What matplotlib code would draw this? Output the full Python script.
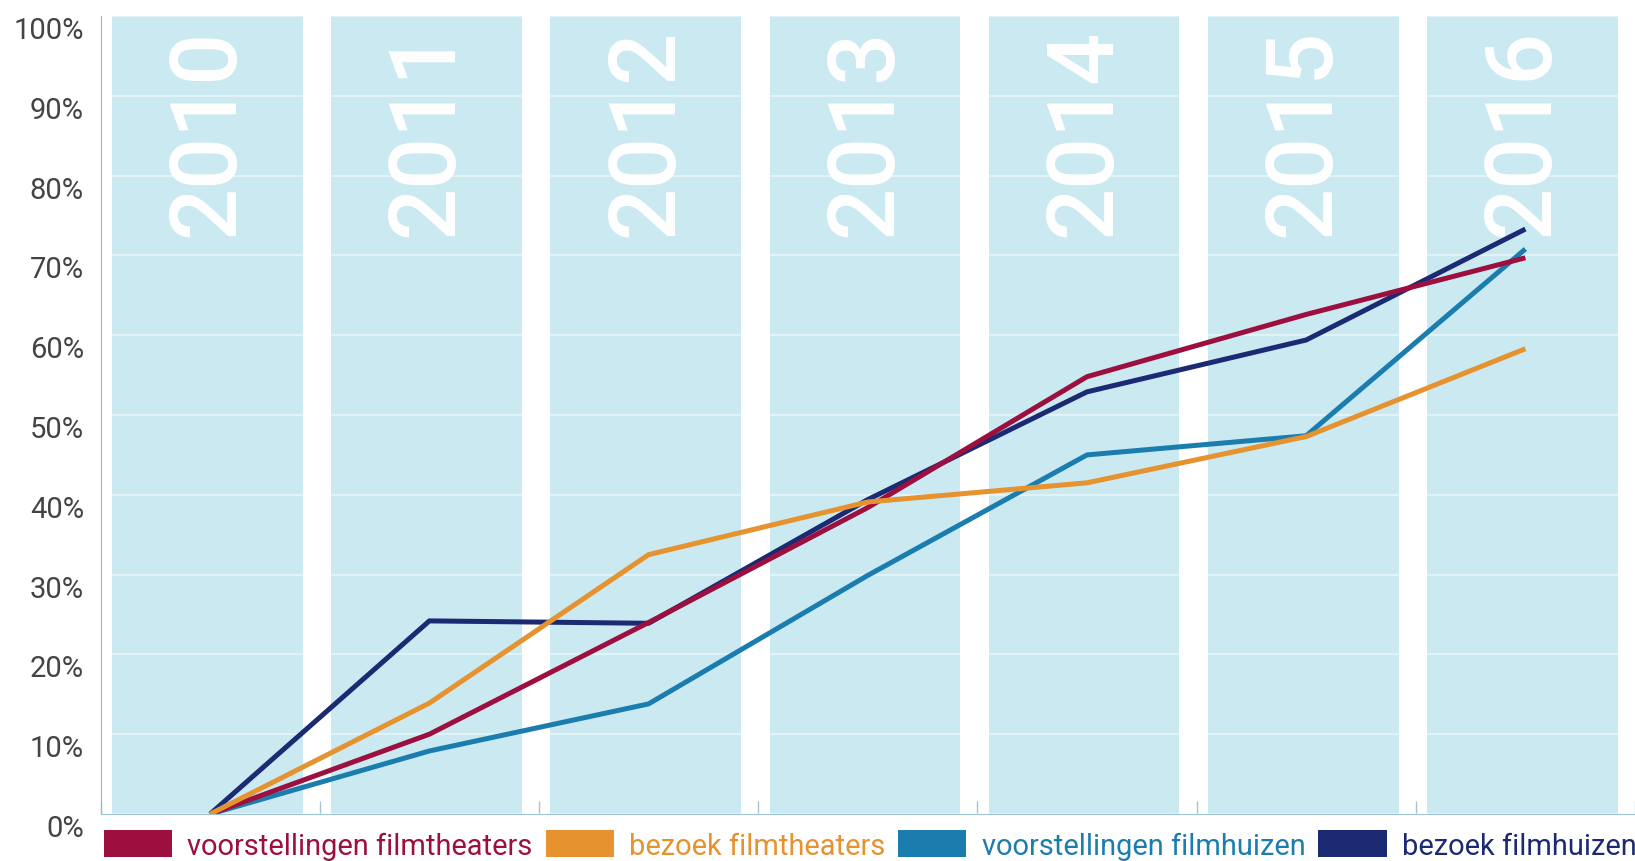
import numpy as np
import matplotlib
matplotlib.use("Agg")
import matplotlib.pyplot as plt
from matplotlib.patches import Patch
from matplotlib.transforms import ScaledTranslation

years = ["2010", "2011", "2012", "2013", "2014", "2015", "2016"]
series_names = ["voorstellingen filmtheaters", "bezoek filmtheaters",
                "voorstellingen filmhuizen", "bezoek filmhuizen"]
voorstellingen_filmtheaters = [0, 10.0, 24.0, 38.4, 54.8, 62.6, 69.7]
bezoek_filmtheaters = [0, 13.9, 32.5, 39.1, 41.5, 47.3, 58.3]
voorstellingen_filmhuizen = [0, 7.9, 13.8, 29.9, 45.0, 47.4, 70.8]
bezoek_filmhuizen = [0, 24.2, 23.9, 39.4, 52.9, 59.4, 73.3]
y_ticks = list(range(0, 101, 10))

colors = ["#9c0f3e", "#e5922f", "#1b7dae", "#1b2a72"]
band_color = "#cbe9f1"

plt.rcParams["font.family"] = ["Roboto", "DejaVu Sans"]

fig = plt.figure(figsize=(16.35, 8.62), dpi=100)
ax = fig.add_axes([0.0615, 0.0545, 0.9385, 0.9258])

x = np.arange(len(years)) + 0.5

# light blue column per year
ax.bar(np.arange(len(years)) + 0.487, 100, width=0.87, color=band_color,
       zorder=0, align="center")
for i, yr in enumerate(years):
    ax.text(i + 0.49, 98.5, yr, rotation=90, ha="center", va="top",
            fontsize=66, fontweight="medium", color="white", zorder=1)

ax.grid(axis="y", color="white", lw=1.2, alpha=0.55)
ax.set_axisbelow(True)

data = [voorstellingen_filmtheaters, bezoek_filmtheaters,
        voorstellingen_filmhuizen, bezoek_filmhuizen]
order = [3, 2, 0, 1]
for k in order:
    ax.plot(x, data[k], color=colors[k], lw=3.6, solid_capstyle="butt",
            zorder=3 + order.index(k))

ax.set_xlim(0, 7)
ax.set_ylim(0, 100)
ax.set_xticks(np.arange(0, 8))
ax.set_xticklabels([])
ax.tick_params(axis="x", direction="in", length=9.5, width=1, color="#a9c2cc")
ax.set_yticks(y_ticks)
ax.set_yticklabels([f"{v}%" for v in y_ticks], fontsize=21, color="#444444")
ax.tick_params(axis="y", length=0, pad=12)
offset = ScaledTranslation(0, -11 / 100, fig.dpi_scale_trans)
for lab in ax.get_yticklabels():
    lab.set_transform(lab.get_transform() + offset)

for s in ["top", "right"]:
    ax.spines[s].set_visible(False)
ax.spines["left"].set_color("#9fb4c0")
ax.spines["bottom"].set_color("#9fc3d0")

handles = [Patch(facecolor=c, edgecolor="none") for c in colors]
ax.legend(handles, series_names, ncol=4, frameon=False, loc="center left",
          bbox_to_anchor=(104 / 1635, 16 / 862), bbox_transform=fig.transFigure,
          borderpad=0, borderaxespad=0, prop={"size": 20.9},
          labelcolor=colors, handlelength=2.35, handleheight=1.05,
          handletextpad=0.52, columnspacing=0.45)

fig.savefig("out.png", dpi=100)
